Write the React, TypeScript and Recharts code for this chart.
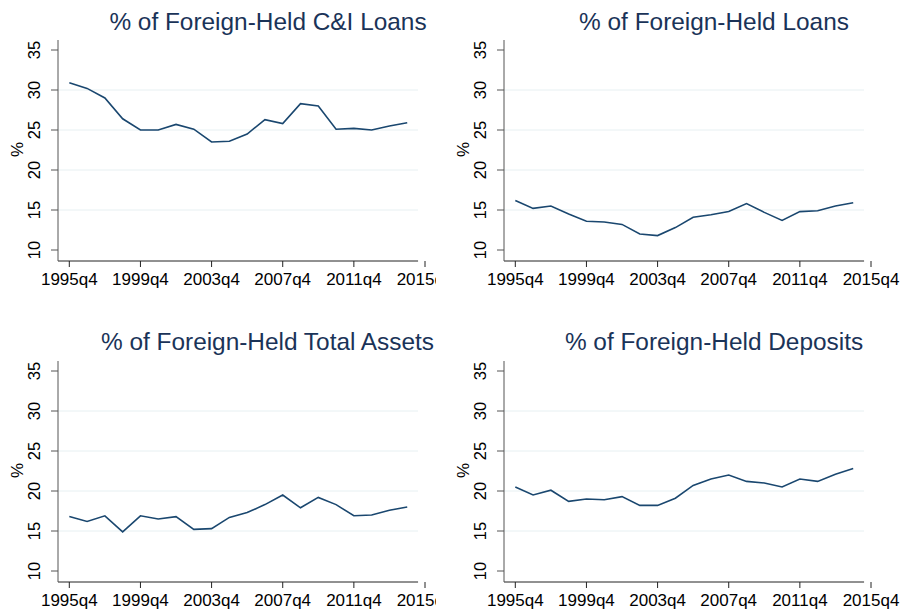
import React from 'react';
import { LineChart, Line, XAxis, YAxis, ReferenceLine } from 'recharts';

const periods = [
  '1995q4', '1996q4', '1997q4', '1998q4', '1999q4', '2000q4', '2001q4', '2002q4', '2003q4', '2004q4',
  '2005q4', '2006q4', '2007q4', '2008q4', '2009q4', '2010q4', '2011q4', '2012q4', '2013q4', '2014q4',
];
const xTickLabels = ['1995q4', '1999q4', '2003q4', '2007q4', '2011q4', '2015q4'];
const yTicks = [10, 15, 20, 25, 30, 35];
const gridValues = [15, 20, 25, 30];

const ciLoans = [30.9, 30.2, 29.0, 26.4, 25.0, 25.0, 25.7, 25.1, 23.5, 23.6, 24.5, 26.3, 25.8, 28.3, 28.0, 25.1, 25.2, 25.0, 25.5, 25.9];
const loans = [16.2, 15.2, 15.5, 14.5, 13.6, 13.5, 13.2, 12.0, 11.8, 12.8, 14.1, 14.4, 14.8, 15.8, 14.7, 13.7, 14.8, 14.9, 15.5, 15.9];
const totalAssets = [16.8, 16.2, 16.9, 14.9, 16.9, 16.5, 16.8, 15.2, 15.3, 16.7, 17.3, 18.3, 19.5, 17.9, 19.2, 18.3, 16.9, 17.0, 17.6, 18.0];
const deposits = [20.5, 19.5, 20.1, 18.7, 19.0, 18.9, 19.3, 18.2, 18.2, 19.1, 20.7, 21.5, 22.0, 21.2, 21.0, 20.5, 21.5, 21.2, 22.1, 22.8];

const titleCI = '% of Foreign-Held C&I Loans';
const titleLoans = '% of Foreign-Held Loans';
const titleAssets = '% of Foreign-Held Total Assets';
const titleDeposits = '% of Foreign-Held Deposits';

const toNum = (p: string) => Number(p.slice(0, 4)) + (Number(p.slice(5)) - 1) / 4;
const xTicks = xTickLabels.map(toNum);

const X_MIN = 1995.114;
const X_MAX = 2015.75;
const X_AXIS_END = 2015.36;
const Y_MIN = 8.625;
const Y_MAX = 36.25;

const FONT = "'Liberation Sans', Arial, sans-serif";
const LINE_COLOR = '#1a476f';
const TITLE_COLOR = '#1a3358';
const GRID_COLOR = '#e7f0f2';

const XTick = (props: any) => {
  const { x, y, payload } = props;
  const idx = xTicks.indexOf(payload.value);
  const label = idx >= 0 ? xTickLabels[idx] : String(payload.value);
  return (
    <text x={x} y={y + 16} textAnchor="middle" fontSize={17} fontFamily={FONT} fill="#000">
      {label}
    </text>
  );
};

const YTick = (props: any) => {
  const { x, y, payload } = props;
  return (
    <text
      transform={`translate(${x - 9},${y}) rotate(-90)`}
      textAnchor="middle"
      fontSize={16.5}
      fontFamily={FONT}
      fill="#000"
    >
      {payload.value}
    </text>
  );
};

const PctLabel = (props: any) => {
  const vb = props.viewBox || { x: 0, y: 0, width: 0, height: 0 };
  const cx = vb.x + vb.width - 35;
  const cy = vb.y + vb.height / 2 - 1;
  return (
    <text transform={`translate(${cx},${cy}) rotate(-90)`} textAnchor="middle" fontSize={17} fontFamily={FONT} fill="#000">
      %
    </text>
  );
};

type PanelProps = {
  values: number[];
  left: number;
  top: number;
  width: number;
  height: number;
  marginLeft: number;
  marginRight: number;
};

function Panel({ values, left, top, width, height, marginLeft, marginRight }: PanelProps) {
  const data = periods.map((p, i) => ({ t: toNum(p), v: values[i] }));
  return (
    <div style={{ position: 'absolute', left, top, width, height, overflow: 'hidden' }}>
      <LineChart
        width={width}
        height={height}
        data={data}
        margin={{ top: 40, right: marginRight, bottom: height - 261 - 20, left: marginLeft }}
      >
        <XAxis
          dataKey="t"
          type="number"
          domain={[X_MIN, X_MAX]}
          ticks={xTicks}
          interval={0}
          allowDataOverflow
          axisLine={false}
          tickSize={6}
          tickLine={{ stroke: '#222' }}
          tick={<XTick />}
          height={20}
        />
        <YAxis
          type="number"
          domain={[Y_MIN, Y_MAX]}
          ticks={yTicks}
          interval={0}
          allowDataOverflow
          width={50}
          axisLine={{ stroke: '#555' }}
          tickLine={{ stroke: '#555' }}
          tickSize={7}
          tick={<YTick />}
          label={<PctLabel />}
        />
        {gridValues.map((g) => (
          <ReferenceLine
            key={g}
            segment={[{ x: X_MIN, y: g }, { x: X_AXIS_END, y: g }]}
            stroke={GRID_COLOR}
            strokeWidth={1}
            ifOverflow="visible"
          />
        ))}
        <ReferenceLine
          segment={[{ x: X_MIN, y: Y_MIN }, { x: X_AXIS_END, y: Y_MIN }]}
          stroke="#222"
          strokeWidth={1}
          ifOverflow="visible"
        />
        <Line
          type="linear"
          dataKey="v"
          stroke={LINE_COLOR}
          strokeWidth={1.6}
          dot={false}
          activeDot={false}
          isAnimationActive={false}
        />
      </LineChart>
    </div>
  );
}

export default function App() {
  return (
    <div style={{ position: 'absolute', left: 0, top: 0, width: 901, height: 609, background: '#fff', overflow: 'hidden' }}>
      <Panel values={ciLoans} left={0} top={0} width={436} height={300} marginLeft={8} marginRight={11} />
      <Panel values={loans} left={450} top={0} width={451} height={300} marginLeft={4} marginRight={30} />
      <Panel values={totalAssets} left={0} top={321} width={436} height={288} marginLeft={8} marginRight={11} />
      <Panel values={deposits} left={450} top={321} width={451} height={288} marginLeft={4} marginRight={30} />
      <svg width={901} height={609} style={{ position: 'absolute', left: 0, top: 0, pointerEvents: 'none' }}>
        <text x={268} y={29.5} textAnchor="middle" fontSize={24.4} fontFamily={FONT} fill={TITLE_COLOR}>{titleCI}</text>
        <text x={714} y={29.5} textAnchor="middle" fontSize={24.4} fontFamily={FONT} fill={TITLE_COLOR}>{titleLoans}</text>
        <text x={267.5} y={349.5} textAnchor="middle" fontSize={24.4} fontFamily={FONT} fill={TITLE_COLOR}>{titleAssets}</text>
        <text x={714} y={349.5} textAnchor="middle" fontSize={24.4} fontFamily={FONT} fill={TITLE_COLOR}>{titleDeposits}</text>
      </svg>
    </div>
  );
}
